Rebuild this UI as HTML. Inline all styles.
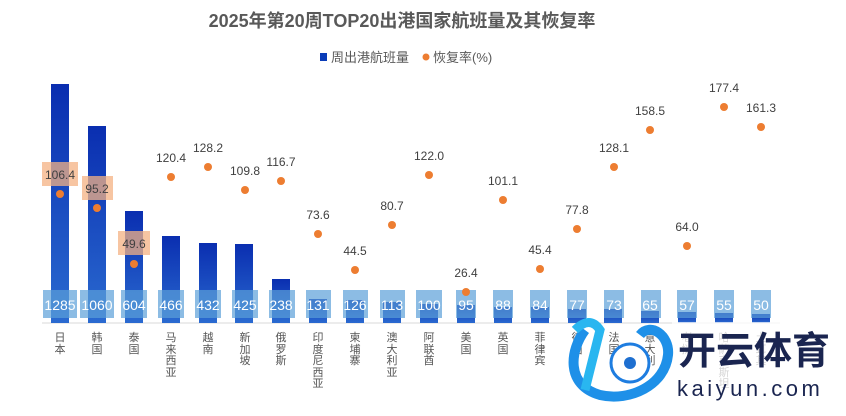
<!DOCTYPE html>
<html><head><meta charset="utf-8"><style>
body{margin:0;width:846px;height:416px;background:#fff;overflow:hidden;position:relative;font-family:"Liberation Sans","Noto Sans CJK SC",sans-serif}
.c{position:absolute;top:333px;width:12px;font-size:11px;line-height:11.5px;color:#555;text-align:center;word-break:break-all}
</style></head><body>
<svg width="846" height="416" style="position:absolute;left:0;top:0" font-family="Liberation Sans, Noto Sans CJK SC, sans-serif">
<defs><linearGradient id="g" x1="0" y1="0" x2="0" y2="1"><stop offset="0" stop-color="#0a2eb0"/><stop offset="1" stop-color="#2a6ad0"/></linearGradient></defs>
<text x="402" y="27" text-anchor="middle" font-size="18" font-weight="bold" fill="#595959">2025年第20周TOP20出港国家航班量及其恢复率</text>
<rect x="320" y="53" width="7" height="8" fill="#0a3cb8"/>
<text x="331" y="62" font-size="13" fill="#595959">周出港航班量</text>
<circle cx="426" cy="57" r="3.5" fill="#ed7d31"/>
<text x="433" y="62" font-size="13" fill="#595959">恢复率(%)</text>
<line x1="42" y1="323" x2="780" y2="323" stroke="#d9d9d9"/>
<g fill="url(#g)">
<rect x="51" y="84" width="18" height="239"/>
<rect x="88" y="126" width="18" height="197"/>
<rect x="125" y="211" width="18" height="112"/>
<rect x="162" y="236" width="18" height="87"/>
<rect x="199" y="243" width="18" height="80"/>
<rect x="235" y="244" width="18" height="79"/>
<rect x="272" y="279" width="18" height="44"/>
<rect x="309" y="299" width="18" height="24"/>
<rect x="346" y="300" width="18" height="23"/>
<rect x="383" y="302" width="18" height="21"/>
<rect x="420" y="304" width="18" height="19"/>
<rect x="457" y="305" width="18" height="18"/>
<rect x="494" y="307" width="18" height="16"/>
<rect x="531" y="307" width="18" height="16"/>
<rect x="568" y="309" width="18" height="14"/>
<rect x="604" y="309" width="18" height="14"/>
<rect x="641" y="311" width="18" height="12"/>
<rect x="678" y="312" width="18" height="11"/>
<rect x="715" y="313" width="18" height="10"/>
<rect x="752" y="314" width="18" height="9"/>
</g>
<g fill="#5b9fd8" fill-opacity="0.7">
<rect x="43" y="290" width="34" height="28"/>
<rect x="80" y="290" width="34" height="28"/>
<rect x="121" y="290" width="26" height="28"/>
<rect x="158" y="290" width="26" height="28"/>
<rect x="195" y="290" width="26" height="28"/>
<rect x="232" y="290" width="26" height="28"/>
<rect x="269" y="290" width="26" height="28"/>
<rect x="306" y="290" width="25" height="28"/>
<rect x="343" y="290" width="25" height="28"/>
<rect x="380" y="290" width="25" height="28"/>
<rect x="416" y="290" width="26" height="28"/>
<rect x="456" y="290" width="20" height="28"/>
<rect x="493" y="290" width="20" height="28"/>
<rect x="530" y="290" width="20" height="28"/>
<rect x="567" y="290" width="20" height="28"/>
<rect x="604" y="290" width="20" height="28"/>
<rect x="641" y="290" width="20" height="28"/>
<rect x="677" y="290" width="20" height="28"/>
<rect x="714" y="290" width="20" height="28"/>
<rect x="751" y="290" width="20" height="28"/>
</g>
<g font-size="14" fill="#fff" text-anchor="middle">
<text x="60" y="310">1285</text><text x="97" y="310">1060</text><text x="134" y="310">604</text><text x="171" y="310">466</text><text x="208" y="310">432</text><text x="245" y="310">425</text><text x="281" y="310">238</text><text x="318" y="310">131</text><text x="355" y="310">126</text><text x="392" y="310">113</text><text x="429" y="310">100</text><text x="466" y="310">95</text><text x="503" y="310">88</text><text x="540" y="310">84</text><text x="577" y="310">77</text><text x="614" y="310">73</text><text x="650" y="310">65</text><text x="687" y="310">57</text><text x="724" y="310">55</text><text x="761" y="310">50</text>
</g>
<g fill="#f4b183" fill-opacity="0.75">
<rect x="42" y="162" width="36" height="24"/>
<rect x="82" y="176" width="31" height="24"/>
<rect x="118" y="231" width="32" height="24"/>
</g>
<g fill="#ed7d31">
<circle cx="60" cy="194" r="4"/><circle cx="97" cy="208" r="4"/><circle cx="134" cy="264" r="4"/><circle cx="171" cy="177" r="4"/><circle cx="208" cy="167" r="4"/><circle cx="245" cy="190" r="4"/><circle cx="281" cy="181" r="4"/><circle cx="318" cy="234" r="4"/><circle cx="355" cy="270" r="4"/><circle cx="392" cy="225" r="4"/><circle cx="429" cy="175" r="4"/><circle cx="466" cy="292" r="4"/><circle cx="503" cy="200" r="4"/><circle cx="540" cy="269" r="4"/><circle cx="577" cy="229" r="4"/><circle cx="614" cy="167" r="4"/><circle cx="650" cy="130" r="4"/><circle cx="687" cy="246" r="4"/><circle cx="724" cy="107" r="4"/><circle cx="761" cy="127" r="4"/>
</g>
<g font-size="12" fill="#404040" text-anchor="middle">
<text x="60" y="179">106.4</text><text x="97" y="193">95.2</text><text x="134" y="248">49.6</text><text x="171" y="162">120.4</text><text x="208" y="152">128.2</text><text x="245" y="175">109.8</text><text x="281" y="166">116.7</text><text x="318" y="219">73.6</text><text x="355" y="255">44.5</text><text x="392" y="210">80.7</text><text x="429" y="160">122.0</text><text x="466" y="277">26.4</text><text x="503" y="185">101.1</text><text x="540" y="254">45.4</text><text x="577" y="214">77.8</text><text x="614" y="152">128.1</text><text x="650" y="115">158.5</text><text x="687" y="231">64.0</text><text x="724" y="92">177.4</text><text x="761" y="112">161.3</text>
</g>
</svg>
<div class="c" style="left:54px">日本</div><div class="c" style="left:91px">韩国</div><div class="c" style="left:128px">泰国</div><div class="c" style="left:165px">马来西亚</div><div class="c" style="left:202px">越南</div><div class="c" style="left:239px">新加坡</div><div class="c" style="left:275px">俄罗斯</div><div class="c" style="left:312px">印度尼西亚</div><div class="c" style="left:349px">柬埔寨</div><div class="c" style="left:386px">澳大利亚</div><div class="c" style="left:423px">阿联酋</div><div class="c" style="left:460px">美国</div><div class="c" style="left:497px">英国</div><div class="c" style="left:534px">菲律宾</div><div class="c" style="left:571px">德国</div><div class="c" style="left:608px">法国</div><div class="c" style="left:644px">意大利</div><div class="c" style="left:681px">老挝</div><div class="c" style="left:718px">哈萨克斯坦</div><div class="c" style="left:755px">土耳其</div>
<svg width="846" height="416" style="position:absolute;left:0;top:0">
<rect x="672" y="322" width="165" height="80" fill="#fff" fill-opacity="0.75"/>
<path d="M585 330 C570 350 565 385 600 395 C630 402 665 385 668 355 C670 335 650 322 640 335" fill="none" stroke="#1e90e8" stroke-width="10"/>
<path d="M575 330 Q590 315 600 330 L585 390" fill="none" stroke="#29b6f0" stroke-width="9"/>
<circle cx="630" cy="363" r="19" fill="#fff" stroke="#1e7de0" stroke-width="3"/>
<circle cx="630" cy="363" r="6" fill="#1e6fd0"/>
<text x="678" y="364" font-family="Liberation Sans, Noto Sans CJK SC, sans-serif" font-size="38" font-weight="bold" fill="#1a2550">开云体育</text>
<text x="677" y="396" font-family="Liberation Sans, sans-serif" font-size="22" letter-spacing="3.5" fill="#1a2550">kaiyun.com</text>
</svg>
</body></html>
